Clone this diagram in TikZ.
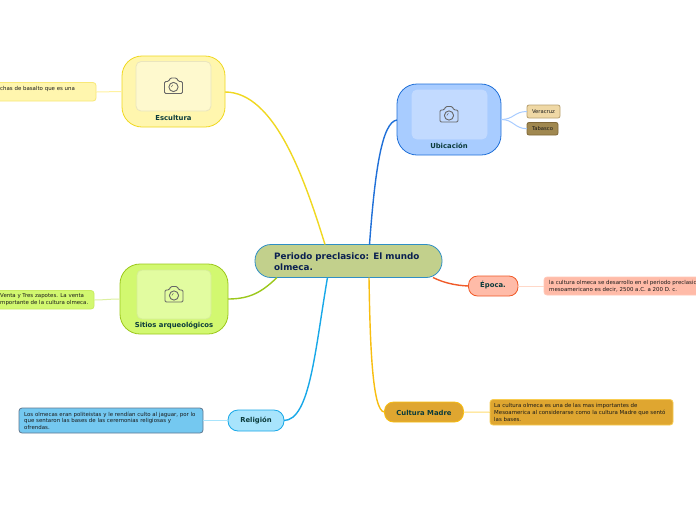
\documentclass[tikz,border=0pt]{standalone}
\usepackage{fontspec}
\setmainfont{DejaVu Sans}
\definecolor{txtdark}{HTML}{0B3B3B}
\definecolor{txtnavy}{HTML}{0A2050}
\definecolor{camgray}{HTML}{666666}
\definecolor{cyel}{HTML}{F0D820}\definecolor{fyel}{HTML}{FFF6AE}\definecolor{iyel}{HTML}{FEF9CE}
\definecolor{cgrn}{HTML}{9CC81C}\definecolor{fgrn}{HTML}{D2F870}\definecolor{igrn}{HTML}{E2FCA0}
\definecolor{cblu}{HTML}{2070D8}\definecolor{fblu}{HTML}{A8CCFF}\definecolor{iblu}{HTML}{C2DAFF}
\definecolor{cred}{HTML}{F05A28}\definecolor{fred}{HTML}{FFBBA8}
\definecolor{cora}{HTML}{F8BE10}\definecolor{fora}{HTML}{DFA630}
\definecolor{ccya}{HTML}{18A8E8}\definecolor{fcya}{HTML}{A8E4FC}\definecolor{dcya}{HTML}{74C8F0}
\definecolor{fcen}{HTML}{C2D08C}\definecolor{ccen}{HTML}{2F8FC5}
\definecolor{fver}{HTML}{EFD8A5}\definecolor{dver}{HTML}{B8A070}
\definecolor{ftab}{HTML}{A08850}\definecolor{dtab}{HTML}{806838}
\definecolor{dred}{HTML}{FFC8B8}\definecolor{dora}{HTML}{F8CC50}
\definecolor{dcyb}{HTML}{607890}\definecolor{dyel}{HTML}{F8E878}\definecolor{dgrn}{HTML}{C8EC60}
\definecolor{syel}{HTML}{FFF2A0}\definecolor{sgrn}{HTML}{DCF0A0}\definecolor{sred}{HTML}{FFD8C8}\definecolor{sora}{HTML}{FFDC70}
\tikzset{
  px/.style={x=1pt,y=-1pt},
  mainlabel/.style={font=\bfseries\fontsize{6.85}{8}\selectfont,text=txtdark,inner sep=0pt},
  smalltext/.style={font=\fontsize{5.45}{6.6}\selectfont,text=black!90,inner sep=0pt,align=left,anchor=west},
  leaflabel/.style={font=\fontsize{5.25}{6}\selectfont,text=black!90,inner sep=0pt},
  conn/.style={line width=1.4pt},
  sub/.style={line width=1pt},
  camera/.pic={
    \draw[line width=.9pt,draw=camgray,rounded corners=1.2pt]
      (-9,7.5) -- (-9,-4.5) -- (-5,-4.5) -- (-3.2,-8) -- (3.2,-8) -- (5,-4.5) -- (9,-4.5) -- (9,7.5) -- cycle;
    \draw[line width=.9pt,draw=camgray] (0,1) circle (4.6pt);
    \draw[line width=.5pt,draw=camgray] (-2.2,1) arc (180:110:2.3pt);
  }
}
\newcommand{\boxnode}[9]{% name,x1,y1,x2,y2,radius,fill,draw,extra
  \node[anchor=north west,inner sep=0pt,outer sep=0pt,draw=#8,fill=#7,line width=.8pt,rounded corners=#6pt,
        minimum width=#4pt-#2pt,minimum height=#5pt-#3pt] (#1) at (#2,#3) {#9};}
\begin{document}
\begin{tikzpicture}[px]
\useasboundingbox (0,0) rectangle (696,520);
\clip (0,0) rectangle (696,520);
\fill[white] (0,0) rectangle (696,520);
% nodes
\boxnode{centre}{255}{244.5}{442}{277.5}{16}{fcen}{ccen}{}
\node[anchor=west,align=left,inner sep=0pt,font=\bfseries\fontsize{8.8}{11.2}\selectfont,text=txtnavy] (centret) at (274,261.5) {Periodo preclasico: El mundo\\olmeca.};
\boxnode{escultura}{122}{56}{225}{127}{20}{fyel}{cyel}{}
\boxnode{esculturai}{136}{61.5}{211}{111}{5}{iyel}{black!8!iyel}{}
\node[mainlabel] (esculturat) at (173.5,117.5) {Escultura};
\pic at (173.5,86) {camera};
\boxnode{sitios}{120}{264}{228}{334}{20}{fgrn}{cgrn}{}
\boxnode{sitiosi}{137}{270}{211}{319}{5}{igrn}{black!6!igrn}{}
\node[mainlabel] (sitiost) at (174,325.5) {Sitios arqueológicos};
\pic at (174,294.5) {camera};
\boxnode{ubic}{397}{84}{501}{155}{20}{fblu}{cblu}{}
\boxnode{ubici}{412}{90}{487}{139}{5}{iblu}{iblu}{}
\node[mainlabel] (ubict) at (449,145.5) {Ubicación};
\pic at (449,114.5) {camera};
\boxnode{veracruz}{527}{105}{560}{118}{2}{fver}{dver}{}
\node[leaflabel] (verat) at (543.5,111.5) {Veracruz};
\boxnode{tabasco}{527}{122.5}{558}{135}{2}{ftab}{dtab}{}
\node[leaflabel] (tabt) at (542.5,129) {Tabasco};
\boxnode{epoca}{468.5}{276}{518}{296}{9}{fred}{cred}{}
\node[mainlabel] (epocat) at (493,285.5) {Época.};
\boxnode{epocad}{544}{277}{720}{295}{3}{fred}{dred}{}
\node[smalltext] (epocadt) at (549,286) {la cultura olmeca se desarrollo en el periodo preclasico\\mesoamericano es decir, 2500 a.C. a 200 D. c.};
\boxnode{madre}{384.5}{402}{463.5}{422}{9}{fora}{cora}{}
\node[mainlabel] (madret) at (424,412.5) {Cultura Madre};
\boxnode{madred}{490}{399.5}{673}{425}{3}{fora}{dora}{}
\node[smalltext] (madredt) at (494,412.5) {La cultura olmeca es una de las mas importantes de\\Mesoamerica al considerarse como la cultura Madre que sentó\\las bases.};
\boxnode{relig}{228}{410}{284}{431}{10}{fcya}{ccya}{}
\node[mainlabel] (religt) at (256,420.5) {Religión};
\boxnode{religd}{19}{408}{203}{433}{3}{dcya}{dcyb}{}
\node[smalltext] (religdt) at (24,420.5) {Los olmecas eran politeistas y le rendían culto al jaguar, por lo\\que sentaron las bases de las ceremonias religiosas y\\ofrendas.};
\boxnode{esculturad}{-20}{82.5}{96}{101}{3}{fyel}{dyel}{}
\node[smalltext] (esculturadt) at (0,89) {chas de basalto que es una};
\boxnode{sitiosd}{-20}{290.5}{94}{309}{3}{fgrn}{dgrn}{}
\node[smalltext] (sitiosdt) at (0,299.5) {Venta y Tres zapotes. La venta\\mportante de la cultura olmeca.};
% connectors
\coordinate (cA) at (325,244.5);
\coordinate (cB) at (369.5,244.5);
\coordinate (cC) at (277,277.5);
\coordinate (cD) at (327.5,277.5);
\coordinate (cE) at (369,277.5);
\coordinate (cF) at (433,277.5);
\draw[conn,cyel] (escultura.east |- 0,92) .. controls (275,92) and (305,180) .. (cA);
\draw[conn,cgrn] (sitios.east |- 0,299) .. controls (250,299) and (262,292) .. (cC);
\draw[conn,ccya] (relig.east) .. controls (310,420) and (315,350) .. (cD);
\draw[conn,cblu] (ubic.west |- 0,120) .. controls (382,122) and (375,170) .. (cB);
\draw[conn,cred] (cF) .. controls (443,282.5) and (455,285.5) .. (epoca.west);
\draw[conn,cora] (cE) .. controls (370,340) and (372,412) .. (madre.west);
\draw[sub,syel] (esculturad.east |- 0,92) .. controls (108,92) and (110,91.5) .. (escultura.west |- 0,91.5);
\draw[sub,sgrn] (sitiosd.east |- 0,300) .. controls (105,300) and (108,299) .. (sitios.west |- 0,299);
\draw[sub,fcya] (religd.east |- 0,420.5) -- (relig.west);
\draw[sub,sred] (epoca.east) -- (epocad.west);
\draw[sub,sora] (madre.east) -- (madred.west);
\draw[sub,fblu] (ubic.east |- 0,119.5) .. controls (514,119.5) and (514,111.5) .. (veracruz.west);
\draw[sub,fblu] (ubic.east |- 0,119.5) .. controls (514,119.5) and (514,128.5) .. (tabasco.west);
\end{tikzpicture}
\end{document}
